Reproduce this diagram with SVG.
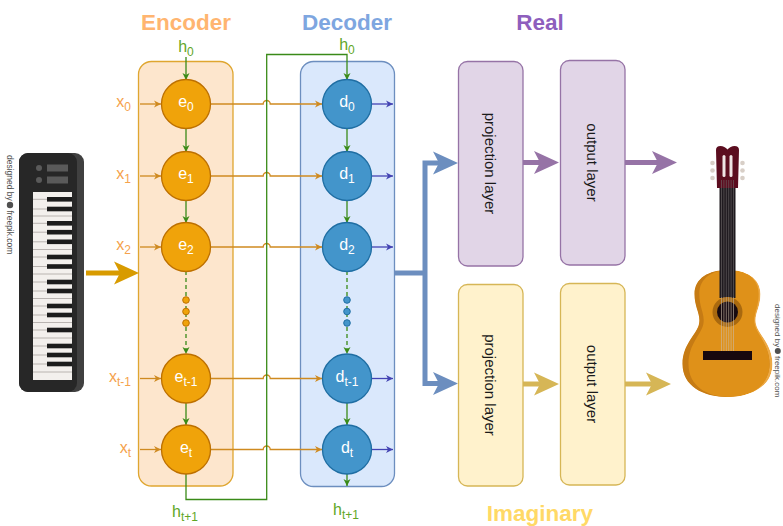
<svg xmlns="http://www.w3.org/2000/svg" xmlns:xlink="http://www.w3.org/1999/xlink" width="783" height="526" viewBox="0 0 783 526">
  <style>
    text { font-family: "Liberation Sans", Arial, Helvetica, sans-serif; }
    .title { font-size: 22.5px; font-weight: bold; text-anchor: middle; }
    .nl { font-size: 16px; fill: #ffffff; text-anchor: middle; }
    .xl { font-size: 16px; fill: #f5a24c; text-anchor: end; }
    .hl { font-size: 16px; fill: #5fa626; text-anchor: middle; }
    .sub { font-size: 12px; }
    .layer { font-size: 15px; fill: #1a1a1a; text-anchor: middle; dominant-baseline: central; }
    .credit { font-size: 8.5px; fill: #505050; }
    .credit-s { font-size: 8px; fill: #505050; }
    .enc { fill: #f0a30a; stroke: #bd7000; stroke-width: 1.3; }
    .dec { fill: #4395cb; stroke: #1f6ea3; stroke-width: 1.3; }
    .edot { fill: #f0a30a; stroke: #bd7000; stroke-width: 1; }
    .ddot { fill: #4395cb; stroke: #1f6ea3; stroke-width: 1; }
    .orange { fill: none; stroke: #cf8a20; stroke-width: 1.3; marker-end: url(#mOrange); }
    .greenA { fill: none; stroke: #3a8a18; stroke-width: 1.3; marker-end: url(#mGreen); }
    .navy { fill: none; stroke: #4343b3; stroke-width: 1.3; marker-end: url(#mNavy); }
    .thick { fill: none; stroke-width: 5; }
  </style>
  <defs>
    <marker id="mOrange" viewBox="-8 -4 9 8" refX="0" refY="0" markerWidth="9" markerHeight="8" markerUnits="userSpaceOnUse" orient="auto">
      <path d="M0,0 L-7,-3.5 L-5,0 L-7,3.5 Z" fill="#cf8a20"/>
    </marker>
    <marker id="mGreen" viewBox="-8 -4 9 8" refX="0" refY="0" markerWidth="9" markerHeight="8" markerUnits="userSpaceOnUse" orient="auto">
      <path d="M0,0 L-7,-3.5 L-5,0 L-7,3.5 Z" fill="#3a8a18"/>
    </marker>
    <marker id="mNavy" viewBox="-8 -4 9 8" refX="0" refY="0" markerWidth="9" markerHeight="8" markerUnits="userSpaceOnUse" orient="auto">
      <path d="M0,0 L-7,-3.5 L-5,0 L-7,3.5 Z" fill="#4343b3"/>
    </marker>
    <!-- large notched arrowhead, tip at origin pointing right -->
    <path id="head" d="M0,0 L-25,-11.5 L-19,0 L-25,11.5 Z"/>
    <path id="gbody" d="M727.5,270 C746,270 760.5,278 760.5,294 C760.5,308 754,314 756,324 C758,334 772.5,344 772.5,364 C772.5,386 752,397 727.5,397 C703,397 682.5,386 682.5,364 C682.5,344 697,334 699,324 C701,314 694.5,308 694.5,294 C694.5,278 709,270 727.5,270 Z"/>
    <clipPath id="gclip"><use xlink:href="#gbody"/></clipPath>
    <clipPath id="kclip"><rect x="19" y="153" width="65" height="239" rx="9"/></clipPath>
  </defs>

  <!-- titles -->
  <text class="title" x="186" y="30" fill="#ffb570">Encoder</text>
  <text class="title" x="347" y="30" fill="#7ea6e0">Decoder</text>
  <text class="title" x="540" y="30" fill="#8e5fbd">Real</text>
  <text class="title" x="540" y="521" fill="#ffd966">Imaginary</text>

  <!-- containers -->
  <g id="encoder">
    <rect x="138.5" y="61.5" width="94.5" height="424.5" rx="13" fill="#fde6cd" stroke="#dfa630" stroke-width="1.3"/>
  </g>
  <g id="decoder">
    <rect x="300.5" y="61.5" width="94" height="425" rx="13" fill="#dae8fc" stroke="#6c8ebf" stroke-width="1.3"/>
  </g>

  <!-- keyboard -->
  <g id="keyboard">
    <g clip-path="url(#kclip)">
      <rect x="19" y="153" width="65" height="239" fill="#404040"/>
      <rect x="12" y="153" width="65" height="239" rx="9" fill="#272727"/>
    </g>
    <circle cx="39" cy="168" r="3" fill="#5a5a5a"/>
    <circle cx="39" cy="180" r="3" fill="#5a5a5a"/>
    <rect x="47" y="164.5" width="21" height="7" fill="#5a5a5a"/>
    <rect x="47" y="176.5" width="21" height="7" fill="#5a5a5a"/>
    <rect x="33" y="192" width="39" height="188" fill="#f3f0ed"/>
    <g stroke="#a9a5a1" stroke-width="0.8">
      <line x1="33" y1="199.3" x2="72" y2="199.3"/><line x1="33" y1="209" x2="72" y2="209"/>
      <line x1="33" y1="216" x2="72" y2="216"/><line x1="33" y1="223.3" x2="72" y2="223.3"/>
      <line x1="33" y1="232.2" x2="72" y2="232.2"/><line x1="33" y1="241.8" x2="72" y2="241.8"/>
      <line x1="33" y1="249.5" x2="72" y2="249.5"/><line x1="33" y1="257" x2="72" y2="257"/>
      <line x1="33" y1="266.5" x2="72" y2="266.5"/><line x1="33" y1="274" x2="72" y2="274"/>
      <line x1="33" y1="282" x2="72" y2="282"/><line x1="33" y1="291" x2="72" y2="291"/>
      <line x1="33" y1="298.5" x2="72" y2="298.5"/><line x1="33" y1="306" x2="72" y2="306"/>
      <line x1="33" y1="315" x2="72" y2="315"/><line x1="33" y1="322.5" x2="72" y2="322.5"/>
      <line x1="33" y1="330" x2="72" y2="330"/><line x1="33" y1="338" x2="72" y2="338"/>
      <line x1="33" y1="346" x2="72" y2="346"/><line x1="33" y1="355" x2="72" y2="355"/>
      <line x1="33" y1="364" x2="72" y2="364"/><line x1="33" y1="372" x2="72" y2="372"/>
    </g>
    <g fill="#1c1c1c">
      <rect x="47" y="197" width="25" height="4.6"/><rect x="47" y="206.7" width="25" height="4.6"/>
      <rect x="47" y="221" width="25" height="4.6"/><rect x="47" y="229.9" width="25" height="4.6"/>
      <rect x="47" y="239.5" width="25" height="4.6"/><rect x="47" y="254.7" width="25" height="4.6"/>
      <rect x="47" y="264.2" width="25" height="4.6"/><rect x="47" y="279.7" width="25" height="4.6"/>
      <rect x="47" y="288.7" width="25" height="4.6"/><rect x="47" y="303.7" width="25" height="4.6"/>
      <rect x="47" y="312.7" width="25" height="4.6"/><rect x="47" y="327.7" width="25" height="4.6"/>
      <rect x="47" y="343.7" width="25" height="4.6"/><rect x="47" y="352.7" width="25" height="4.6"/>
      <rect x="47" y="361.7" width="25" height="4.6"/>
    </g>
    <g transform="translate(7,155) rotate(90)">
      <text class="credit" x="0" y="0">designed by</text>
      <circle cx="50" cy="-3" r="3.2" fill="#505050"/>
      <text class="credit" x="55.5" y="0">freepik.com</text>
    </g>
  </g>

  <!-- guitar -->
  <g id="guitar">
    <g clip-path="url(#gclip)">
      <use xlink:href="#gbody" fill="#eca946"/>
      <use xlink:href="#gbody" fill="#c67b14" transform="translate(-3,0)"/>
      <use xlink:href="#gbody" fill="#df9119" transform="translate(729,0) scale(0.9,1) translate(-727.5,0)"/>
    </g>
    <rect x="719.5" y="184" width="16" height="114" fill="#1f1a1f"/>
    <path d="M716,150 Q716,146 720.5,146 Q724.5,146 727.5,149.5 Q730.5,146 734.5,146 Q739,146 739,150 L738,188 L717,188 Z" fill="#5b0d1f"/>
    <rect x="722.5" y="155" width="3" height="22" rx="1.5" fill="#efe4e4"/>
    <rect x="729.5" y="155" width="3" height="22" rx="1.5" fill="#efe4e4"/>
    <g fill="#d8cfc7">
      <circle cx="712.5" cy="163" r="2.3"/><circle cx="712.5" cy="170.5" r="2.3"/><circle cx="712.5" cy="178" r="2.3"/>
      <circle cx="742.5" cy="163" r="2.3"/><circle cx="742.5" cy="170.5" r="2.3"/><circle cx="742.5" cy="178" r="2.3"/>
    </g>
    <circle cx="727.5" cy="312" r="15" fill="#a9690f"/>
    <circle cx="727.5" cy="312" r="10.5" fill="#170a10"/>
    <!-- strings over the neck -->
    <g stroke="#6f6a6a" stroke-width="0.6">
      <line x1="721.5" y1="180" x2="721.5" y2="297"/><line x1="723.9" y1="180" x2="723.9" y2="297"/>
      <line x1="726.3" y1="180" x2="726.3" y2="297"/><line x1="728.7" y1="180" x2="728.7" y2="297"/>
      <line x1="731.1" y1="180" x2="731.1" y2="297"/><line x1="733.5" y1="180" x2="733.5" y2="297"/>
    </g>
    <!-- strings over the body -->
    <g stroke="#c9bba8" stroke-width="0.6">
      <line x1="721.5" y1="297" x2="721.5" y2="352"/><line x1="723.9" y1="297" x2="723.9" y2="352"/>
      <line x1="726.3" y1="297" x2="726.3" y2="352"/><line x1="728.7" y1="297" x2="728.7" y2="352"/>
      <line x1="731.1" y1="297" x2="731.1" y2="352"/><line x1="733.5" y1="297" x2="733.5" y2="352"/>
    </g>
    <rect x="703" y="351" width="49" height="9" fill="#17080e"/>
    <g transform="translate(775,304) rotate(90)">
      <text class="credit-s" x="0" y="0">designed by</text>
      <circle cx="47" cy="-2.8" r="3" fill="#505050"/>
      <text class="credit-s" x="52" y="0">freepik.com</text>
    </g>
  </g>

  <!-- connectors -->
  <g id="connectors">
    <!-- inputs into the encoder -->
    <line class="orange" x1="140" y1="104" x2="161" y2="104"/>
    <line class="orange" x1="140" y1="176" x2="161" y2="176"/>
    <line class="orange" x1="140" y1="247" x2="161" y2="247"/>
    <line class="orange" x1="140" y1="378.5" x2="161" y2="378.5"/>
    <line class="orange" x1="140" y1="449.5" x2="161" y2="449.5"/>
    <!-- encoder states to decoder, hopping over the state line -->
    <path class="orange" d="M210.5,104 H263.2 A3.5,3.5 0 0 1 270.2,104 H322"/>
    <path class="orange" d="M210.5,176 H263.2 A3.5,3.5 0 0 1 270.2,176 H322"/>
    <path class="orange" d="M210.5,247 H263.2 A3.5,3.5 0 0 1 270.2,247 H322"/>
    <path class="orange" d="M210.5,378.5 H263.2 A3.5,3.5 0 0 1 270.2,378.5 H322"/>
    <path class="orange" d="M210.5,449.5 H263.2 A3.5,3.5 0 0 1 270.2,449.5 H322"/>
    <!-- decoder outputs -->
    <line class="navy" x1="371.5" y1="104" x2="393" y2="104"/>
    <line class="navy" x1="371.5" y1="176" x2="393" y2="176"/>
    <line class="navy" x1="371.5" y1="247" x2="393" y2="247"/>
    <line class="navy" x1="371.5" y1="378.5" x2="393" y2="378.5"/>
    <line class="navy" x1="371.5" y1="449.5" x2="393" y2="449.5"/>
    <!-- hidden state chain: encoder -->
    <line class="greenA" x1="186" y1="57" x2="186" y2="80"/>
    <line class="greenA" x1="186" y1="128" x2="186" y2="152"/>
    <line class="greenA" x1="186" y1="200" x2="186" y2="223"/>
    <line class="greenA" x1="186" y1="271" x2="186" y2="354" stroke-dasharray="4 3"/>
    <line class="greenA" x1="186" y1="403" x2="186" y2="425"/>
    <!-- final encoder state becomes the decoder's initial state -->
    <path class="greenA" d="M186,474 V499.5 H266.7 V54.5 H347 V80"/>
    <!-- hidden state chain: decoder -->
    <line class="greenA" x1="347" y1="128" x2="347" y2="152"/>
    <line class="greenA" x1="347" y1="200" x2="347" y2="223"/>
    <line class="greenA" x1="347" y1="271" x2="347" y2="354" stroke-dasharray="4 3"/>
    <line class="greenA" x1="347" y1="403" x2="347" y2="425"/>
    <line class="greenA" x1="347" y1="474" x2="347" y2="486"/>

    <!-- keyboard into encoder -->
    <path class="thick" stroke="#d89b00" d="M86,273 H120"/>
    <use xlink:href="#head" x="139" y="273" fill="#d89b00"/>
    <!-- decoder split to both heads -->
    <path class="thick" stroke="#6c8ebf" d="M395,273 H425"/>
    <path class="thick" stroke="#6c8ebf" d="M440,163 H425 V383.5 H440" stroke-linejoin="miter"/>
    <use xlink:href="#head" x="458" y="163" fill="#6c8ebf"/>
    <use xlink:href="#head" x="458" y="383.5" fill="#6c8ebf"/>
    <!-- real branch -->
    <path class="thick" stroke="#9673a6" d="M523,162.5 H541"/>
    <use xlink:href="#head" x="559" y="162.5" fill="#9673a6"/>
    <path class="thick" stroke="#9673a6" d="M625,162.5 H658"/>
    <use xlink:href="#head" x="677" y="162.5" fill="#9673a6"/>
    <!-- imaginary branch -->
    <path class="thick" stroke="#d6b656" d="M523,384 H541"/>
    <use xlink:href="#head" x="559" y="384" fill="#d6b656"/>
    <path class="thick" stroke="#d6b656" d="M625,384 H652"/>
    <use xlink:href="#head" x="671" y="384" fill="#d6b656"/>
  </g>

  <!-- state labels -->
  <text class="hl" x="186" y="52">h<tspan class="sub" dy="4">0</tspan></text>
  <text class="hl" x="347" y="50">h<tspan class="sub" dy="4">0</tspan></text>
  <text class="hl" x="185" y="517">h<tspan class="sub" dy="4">t+1</tspan></text>
  <text class="hl" x="346" y="515">h<tspan class="sub" dy="4">t+1</tspan></text>

  <!-- input labels -->
  <text class="xl" x="131" y="107">x<tspan class="sub" dy="4">0</tspan></text>
  <text class="xl" x="131" y="179">x<tspan class="sub" dy="4">1</tspan></text>
  <text class="xl" x="131" y="250">x<tspan class="sub" dy="4">2</tspan></text>
  <text class="xl" x="131" y="381.5">x<tspan class="sub" dy="4">t-1</tspan></text>
  <text class="xl" x="131" y="452.5">x<tspan class="sub" dy="4">t</tspan></text>

  <!-- encoder cells -->
  <g id="e0"><circle class="enc" cx="186" cy="104" r="24.5"/><text class="nl" x="186" y="107">e<tspan class="sub" dy="4">0</tspan></text></g>
  <g id="e1"><circle class="enc" cx="186" cy="176" r="24.5"/><text class="nl" x="186" y="179">e<tspan class="sub" dy="4">1</tspan></text></g>
  <g id="e2"><circle class="enc" cx="186" cy="247" r="24.5"/><text class="nl" x="186" y="250">e<tspan class="sub" dy="4">2</tspan></text></g>
  <g id="edots"><circle class="edot" cx="186" cy="300" r="3.3"/><circle class="edot" cx="186" cy="311.5" r="3.3"/><circle class="edot" cx="186" cy="323" r="3.3"/></g>
  <g id="et1"><circle class="enc" cx="186" cy="378.5" r="24.5"/><text class="nl" x="186" y="381.5">e<tspan class="sub" dy="4">t-1</tspan></text></g>
  <g id="et"><circle class="enc" cx="186" cy="449.5" r="24.5"/><text class="nl" x="186" y="452.5">e<tspan class="sub" dy="4">t</tspan></text></g>

  <!-- decoder cells -->
  <g id="d0"><circle class="dec" cx="347" cy="104" r="24.5"/><text class="nl" x="347" y="107">d<tspan class="sub" dy="4">0</tspan></text></g>
  <g id="d1"><circle class="dec" cx="347" cy="176" r="24.5"/><text class="nl" x="347" y="179">d<tspan class="sub" dy="4">1</tspan></text></g>
  <g id="d2"><circle class="dec" cx="347" cy="247" r="24.5"/><text class="nl" x="347" y="250">d<tspan class="sub" dy="4">2</tspan></text></g>
  <g id="ddots"><circle class="ddot" cx="347" cy="300" r="3.3"/><circle class="ddot" cx="347" cy="311.5" r="3.3"/><circle class="ddot" cx="347" cy="323" r="3.3"/></g>
  <g id="dt1"><circle class="dec" cx="347" cy="378.5" r="24.5"/><text class="nl" x="347" y="381.5">d<tspan class="sub" dy="4">t-1</tspan></text></g>
  <g id="dt"><circle class="dec" cx="347" cy="449.5" r="24.5"/><text class="nl" x="347" y="452.5">d<tspan class="sub" dy="4">t</tspan></text></g>

  <!-- output heads -->
  <g id="real-projection">
    <rect x="458.5" y="61.5" width="64.5" height="204.5" rx="9" fill="#e1d5e7" stroke="#9673a6" stroke-width="1.3"/>
    <text class="layer" transform="translate(490.5,163.5) rotate(90)">projection layer</text>
  </g>
  <g id="real-output">
    <rect x="560.5" y="60.5" width="64.5" height="204.5" rx="9" fill="#e1d5e7" stroke="#9673a6" stroke-width="1.3"/>
    <text class="layer" transform="translate(592.5,162.5) rotate(90)">output layer</text>
  </g>
  <g id="imag-projection">
    <rect x="458.5" y="284.5" width="64.5" height="201.5" rx="9" fill="#fff2cc" stroke="#d6b656" stroke-width="1.3"/>
    <text class="layer" transform="translate(490.5,385) rotate(90)">projection layer</text>
  </g>
  <g id="imag-output">
    <rect x="560.5" y="283.5" width="64.5" height="201.5" rx="9" fill="#fff2cc" stroke="#d6b656" stroke-width="1.3"/>
    <text class="layer" transform="translate(592.5,384) rotate(90)">output layer</text>
  </g>
</svg>
